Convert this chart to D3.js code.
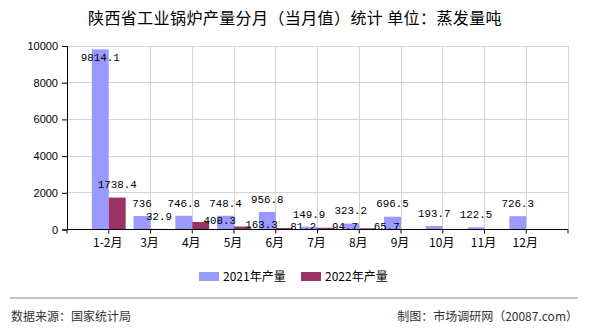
<!DOCTYPE html>
<html><head><meta charset="utf-8">
<script src="https://cdn.jsdelivr.net/npm/d3@7"></script>
<style>
html,body{margin:0;padding:0;background:#fff;}
svg{display:block;}
</style></head>
<body>
<script>
const categories = ["1-2月","3月","4月","5月","6月","7月","8月","9月","10月","11月","12月"];
const values2021 = [9814.1,736,746.8,748.4,956.8,149.9,323.2,696.5,193.7,122.5,726.3];
const values2022 = [1738.4,32.9,408.3,163.3,81.2,94.7,65.7,null,null,null,null];
const yTicks = [0,2000,4000,6000,8000,10000];
const seriesNames = ["2021年产量","2022年产量"];
const colors = ["#9999ff","#993366"];

(function () {
const W = 590, H = 330;
const pLeft = 67, pRight = 568, pTop = 46, pBottom = 229.5;
const cjk = "'Noto Sans CJK SC', sans-serif";
const mono = "'Liberation Mono', 'DejaVu Sans Mono', monospace";

const svg = d3.select("body").append("svg").attr("width", W).attr("height", H);

const x = d3.scaleLinear().domain([0, categories.length + 1]).range([pLeft, pRight]);
const y = d3.scaleLinear().domain([0, 10000]).range([pBottom, pTop]);
const step = x(1) - x(0);
const bw = step * 0.405;

// title
svg.append("text").attr("x", 295).attr("y", 24).attr("text-anchor", "middle")
  .style("font-family", cjk).style("font-size", "16px").style("letter-spacing", "0.4px").attr("fill", "#000")
  .text("陕西省工业锅炉产量分月（当月值）统计 单位：蒸发量吨");

// gridlines horizontal
svg.append("g").selectAll("line").data(yTicks.filter(d => d > 0)).join("line")
  .attr("x1", pLeft).attr("x2", pRight).attr("y1", d => y(d)).attr("y2", d => y(d))
  .attr("stroke", "#d4d4d4").attr("stroke-width", 1).attr("shape-rendering", "crispEdges");
// gridlines vertical
const vIdx = d3.range(2, categories.length + 2);
svg.append("g").selectAll("line").data(vIdx).join("line")
  .attr("x1", d => x(d)).attr("x2", d => x(d)).attr("y1", pTop).attr("y2", pBottom)
  .attr("stroke", "#d4d4d4").attr("stroke-width", 1).attr("shape-rendering", "crispEdges");

// bars
const g2021 = svg.append("g");
g2021.selectAll("rect").data(values2021).join("rect")
  .attr("x", (d, i) => x(i + 1) - bw).attr("width", bw)
  .attr("y", d => y(d)).attr("height", d => pBottom - y(d))
  .attr("fill", colors[0]);
const g2022 = svg.append("g");
g2022.selectAll("rect").data(values2022.map((v, i) => ({v, i})).filter(d => d.v != null)).join("rect")
  .attr("x", d => x(d.i + 1)).attr("width", bw)
  .attr("y", d => y(d.v)).attr("height", d => pBottom - y(d.v))
  .attr("fill", colors[1]);

// y axis
const yAxis = d3.axisLeft(y).tickValues(yTicks).tickSize(5).tickPadding(4).tickFormat(d3.format("d"));
const ya = svg.append("g").attr("transform", `translate(${pLeft},0)`).call(yAxis);
ya.select(".domain").attr("stroke", "#000");
ya.selectAll(".tick line").attr("stroke", "#000");
ya.selectAll("text").style("font-family", "'Liberation Sans', Arial, sans-serif").style("font-size", "11px").attr("fill", "#000");

// x axis
svg.append("line").attr("x1", pLeft).attr("x2", pRight).attr("y1", pBottom).attr("y2", pBottom)
  .attr("stroke", "#000").attr("stroke-width", 1.2);
svg.append("g").selectAll("line").data(d3.range(0, categories.length + 2)).join("line")
  .attr("x1", d => x(d)).attr("x2", d => x(d)).attr("y1", pBottom).attr("y2", pBottom + 4)
  .attr("stroke", "#000");
svg.append("g").selectAll("text").data(categories).join("text")
  .attr("x", (d, i) => x(i + 1) - 1).attr("y", pBottom + 17).attr("text-anchor", "middle")
  .style("font-family", cjk).style("font-size", "12px").attr("fill", "#000")
  .text(d => d);

// data labels with simple collision avoidance
const placed = [];
const labelG = svg.append("g");
function overlaps(a, b) {
  return a.x0 < b.x1 && a.x1 > b.x0 && a.y0 < b.y1 && a.y1 > b.y0;
}
function addLabel(v, cx, barTop, avoid) {
  let cy = barTop - 13;
  if (cy - 6 < pTop) cy = barTop + 8;
  const t = labelG.append("text").attr("text-anchor", "middle").attr("dy", "0.35em")
    .style("font-family", mono).style("font-size", "10.8px").attr("fill", "#000").text(String(v));
  const w = t.node().getComputedTextLength();
  let box = {x0: cx - w / 2, x1: cx + w / 2, y0: cy - 6, y1: cy + 6};
  if (avoid && placed.some(p => overlaps(p, box))) {
    cx += 19; cy += 11;
    box = {x0: cx - w / 2, x1: cx + w / 2, y0: cy - 6, y1: cy + 6};
  }
  t.attr("x", cx).attr("y", cy);
  placed.push(box);
}
values2021.forEach((v, i) => addLabel(v, x(i + 1) - bw / 2, y(v), false));
values2022.forEach((v, i) => { if (v != null) addLabel(v, x(i + 1) + bw / 2, y(v), true); });

// legend
const lg = svg.append("g");
const legendX = [199, 301];
seriesNames.forEach((n, i) => {
  lg.append("rect").attr("x", legendX[i]).attr("y", 272).attr("width", 20).attr("height", 9).attr("fill", colors[i]);
  lg.append("text").attr("x", legendX[i] + 24).attr("y", 281)
    .style("font-family", cjk).style("font-size", "12px").attr("fill", "#000").text(n);
});

// footer
svg.append("line").attr("x1", 10).attr("x2", 578).attr("y1", 298).attr("y2", 298)
  .attr("stroke", "#888").attr("stroke-width", 1.2);
svg.append("text").attr("x", 11).attr("y", 321)
  .style("font-family", cjk).style("font-size", "12px").attr("fill", "#333").text("数据来源：国家统计局");
svg.append("text").attr("x", 578).attr("y", 321).attr("text-anchor", "end")
  .style("font-family", cjk).style("font-size", "12px").attr("fill", "#333").text("制图：市场调研网（20087.com）");
})();
</script>
</body></html>
